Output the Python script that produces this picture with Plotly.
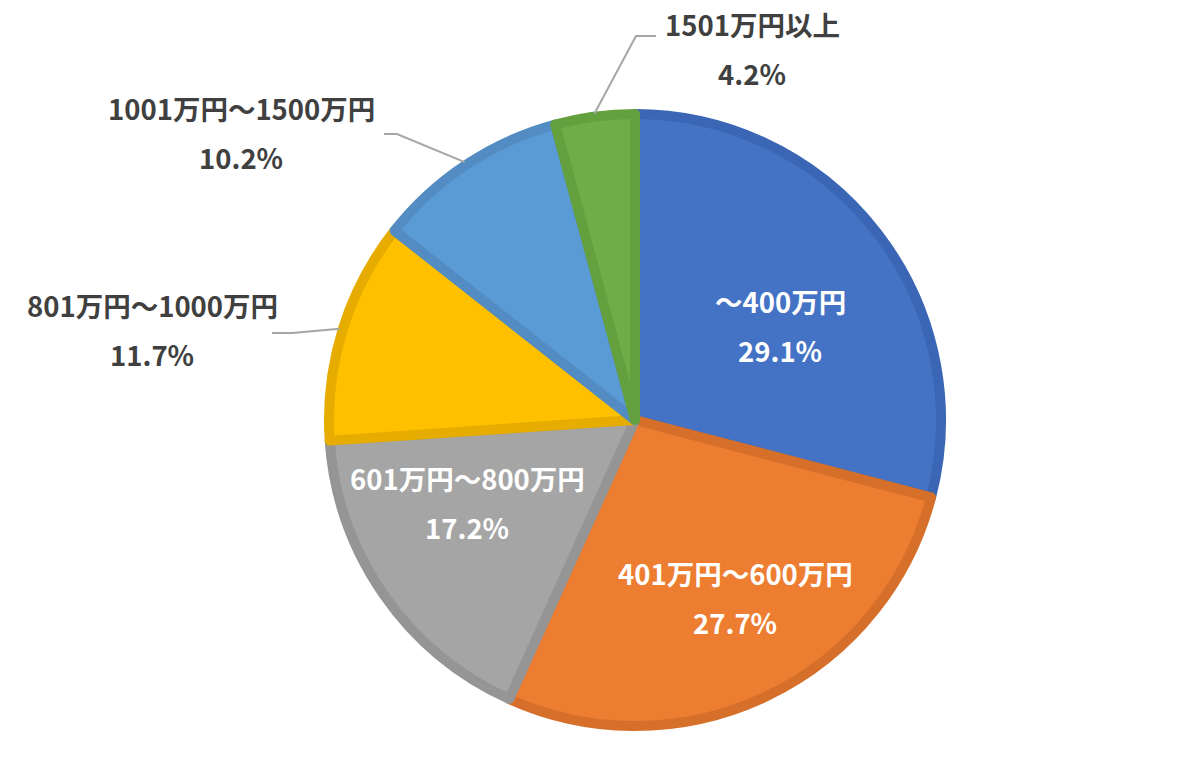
import math
import plotly.graph_objects as go

# ---- data ----
categories = ["～400万円", "401万円～600万円", "601万円～800万円",
              "801万円～1000万円", "1001万円～1500万円", "1501万円以上"]
shares = [29.1, 27.7, 17.2, 11.7, 10.2, 4.2]

# ---- styles ----
fill_colors = ["#4472C4", "#ED7D31", "#A5A5A5", "#FFC000", "#5B9BD5", "#70AD47"]
edge_colors = ["#3A66B5", "#D56F2A", "#959595", "#E6AD00", "#528CC3", "#64A03E"]
label_inside = [True, True, True, False, False, False]

W, H = 1200, 763
CX, CY, R = 635, 420, 306          # pie centre / radius in pixels
LINE_GAP = 49

# label centre (first line) per slice, pixels
label_pos = [(780, 301), (735, 573), (467, 478), (152, 305), (241, 108), (752, 24)]
# leader-line elbow and end per outside slice, pixels
leader_pts = {3: [(292, 333), (272, 333)],
              4: [(397, 134), (384, 134)],
              5: [(636, 36), (656, 36)]}

def px(x):
    return x / W

def py(y):
    return 1 - y / H

fig = go.Figure(go.Pie(
    labels=categories,
    values=shares,
    sort=False,
    direction="clockwise",
    rotation=0,
    textinfo="none",
    hoverinfo="label+percent",
    marker=dict(colors=fill_colors, line=dict(color=edge_colors, width=10)),
    domain=dict(x=[px(CX - R), px(CX + R)], y=[py(CY + R), py(CY - R)]),
    showlegend=False,
))

annotations = []
shapes = []
total = sum(shares)
cum = 0.0
for i, (cat, v) in enumerate(zip(categories, shares)):
    mid = (cum + v / 2) / total * 2 * math.pi
    cum += v
    lx, ly = label_pos[i]
    color = "white" if label_inside[i] else "#404040"
    for j, txt in enumerate([cat, f"{v:.1f}%"]):
        annotations.append(dict(
            x=px(lx), y=py(ly + j * LINE_GAP), xref="paper", yref="paper",
            text=f"<b>{txt}</b>", showarrow=False,
            xanchor="center", yanchor="middle",
            font=dict(family="Noto Sans CJK JP", size=27.5, color=color),
        ))
    if i in leader_pts:
        sx = CX + (R + 3) * math.sin(mid)
        sy = CY - (R + 3) * math.cos(mid)
        pts = [(sx, sy)] + leader_pts[i]
        path = "M " + " L ".join(f"{px(x)},{py(y)}" for x, y in pts)
        shapes.append(dict(type="path", xref="paper", yref="paper", path=path,
                           line=dict(color="#A6A6A6", width=2)))

fig.update_layout(
    width=W, height=H,
    margin=dict(l=0, r=0, t=0, b=0),
    paper_bgcolor="white",
    plot_bgcolor="white",
    annotations=annotations,
    shapes=shapes,
)

fig.write_html("out.html")
